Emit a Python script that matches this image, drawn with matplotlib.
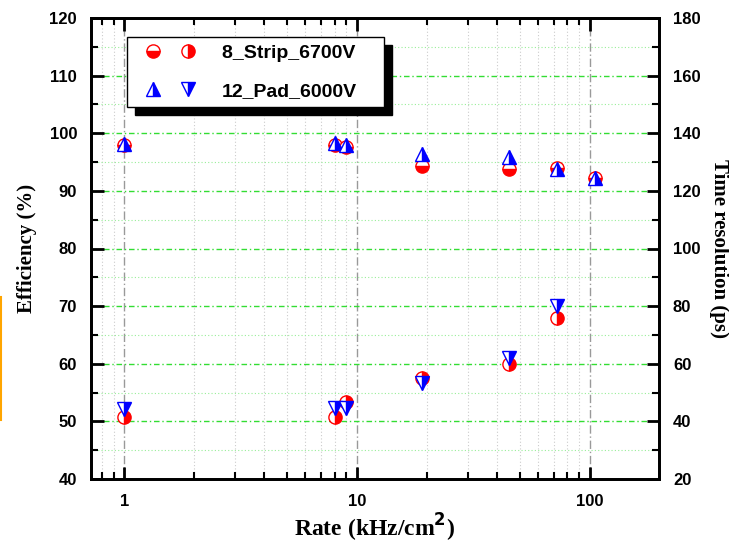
import numpy as np
import matplotlib.pyplot as plt
from matplotlib.legend_handler import HandlerTuple
from matplotlib.lines import Line2D
from matplotlib.ticker import FixedLocator, MultipleLocator, NullFormatter, FixedFormatter

# Rate points (kHz/cm^2)
strip_rate = [1, 8, 9, 19, 45, 72, 105]
pad_rate = [1, 8, 9, 19, 45, 72, 105]

# Efficiency (%) - left axis
strip_eff = [98.0, 98.0, 97.7, 94.4, 93.8, 94.0, 92.3]
pad_eff = [98.1, 98.3, 98.0, 96.4, 95.9, 93.8, 92.3]

# Time resolution (ps) - right axis, only measured up to 72 kHz/cm^2
strip_time_rate = [1, 8, 9, 19, 45, 72]
strip_time = [41.6, 41.6, 46.8, 55.0, 60.0, 75.8]
pad_time_rate = [1, 8, 9, 19, 45, 72]
pad_time = [44.2, 44.8, 44.8, 53.2, 62.0, 80.0]

x_major = [1, 10, 100]
x_labels = ["1", "10", "100"]
legend_labels = ["8_Strip_6700V    ", "12_Pad_6000V"]

tick_size = 12
label_font = dict(family="Liberation Serif", weight="bold", size=15)

fig = plt.figure(figsize=(7.29, 5.44), dpi=100)
ax = fig.add_axes([91 / 729, 65 / 544, 568 / 729, 461 / 544])
ax2 = ax.twinx()

ax.set_xscale("log")
ax.set_xlim(0.72, 198)
ax.set_ylim(40, 120)
ax2.set_ylim(20, 180)

# grid: gray verticals, green horizontals
minor_x = [v * d for d in (0.1, 1, 10, 100) for v in range(2, 10) if 0.72 < v * d < 198]
ax.xaxis.set_major_locator(FixedLocator(x_major))
ax.xaxis.set_major_formatter(FixedFormatter(x_labels))
ax.xaxis.set_minor_locator(FixedLocator(minor_x))
ax.xaxis.set_minor_formatter(NullFormatter())
ax.yaxis.set_major_locator(MultipleLocator(10))
ax.yaxis.set_minor_locator(MultipleLocator(5))
ax2.yaxis.set_major_locator(MultipleLocator(20))
ax2.yaxis.set_minor_locator(MultipleLocator(10))

ax.grid(True, axis="x", which="major", color="#999999", linestyle=(0, (6, 2, 1, 2)), linewidth=1)
ax.grid(True, axis="x", which="minor", color="#cccccc", linestyle=(0, (1, 2)), linewidth=0.8)
ax.grid(True, axis="y", which="major", color="#33dd33", linestyle=(0, (4, 2, 1, 2)), linewidth=1)
ax.grid(True, axis="y", which="minor", color="#99ee99", linestyle=(0, (1, 2)), linewidth=0.8)
ax.set_axisbelow(True)

ms = 9.5
red = "#ff0000"
blue = "#0000ff"

ax.plot(strip_rate, strip_eff, linestyle="none", marker="o", ms=ms, fillstyle="bottom",
        color=red, markerfacecoloralt="white", markeredgecolor=red, zorder=3)
ax.plot(pad_rate, pad_eff, linestyle="none", marker="^", ms=ms + 1, fillstyle="right",
        color=blue, markerfacecoloralt="white", markeredgecolor=blue, zorder=4)
ax2.plot(strip_time_rate, strip_time, linestyle="none", marker="o", ms=ms, fillstyle="right",
         color=red, markerfacecoloralt="white", markeredgecolor=red, zorder=3)
ax2.plot(pad_time_rate, pad_time, linestyle="none", marker="v", ms=ms + 1, fillstyle="right",
         color=blue, markerfacecoloralt="white", markeredgecolor=blue, zorder=4)

# ticks pointing inwards on all sides
ax.tick_params(which="major", direction="in", length=9, width=2, top=True, right=False)
ax.tick_params(which="minor", direction="in", length=5, width=1.5, top=True, right=False)
ax2.tick_params(which="major", direction="in", length=9, width=2)
ax2.tick_params(which="minor", direction="in", length=5, width=1.5)
ax.tick_params(axis="x", pad=11)
ax.tick_params(axis="y", pad=10)
ax2.tick_params(axis="y", pad=10)
for a in (ax, ax2):
    for lab in a.get_xticklabels() + a.get_yticklabels():
        lab.set_family("Liberation Sans")
        lab.set_fontweight("bold")
        lab.set_fontsize(tick_size)
    for sp in a.spines.values():
        sp.set_linewidth(2)

ax.set_xlabel("Rate (kHz/cm$^{\\mathbf{2}}$)", labelpad=2, family="Liberation Serif",
              weight="bold", size=17)
ax.set_ylabel("Efficiency (%)", labelpad=9, **label_font)
ax2.set_ylabel("Time resolution (ps)", rotation=270, va="bottom", labelpad=6, **label_font)

# legend: two markers per sample
h_s1 = Line2D([], [], linestyle="none", marker="o", ms=ms, fillstyle="bottom", color=red,
              markerfacecoloralt="white", markeredgecolor=red)
h_s2 = Line2D([], [], linestyle="none", marker="o", ms=ms, fillstyle="right", color=red,
              markerfacecoloralt="white", markeredgecolor=red)
h_p1 = Line2D([], [], linestyle="none", marker="^", ms=ms + 1, fillstyle="right", color=blue,
              markerfacecoloralt="white", markeredgecolor=blue)
h_p2 = Line2D([], [], linestyle="none", marker="v", ms=ms + 1, fillstyle="right", color=blue,
              markerfacecoloralt="white", markeredgecolor=blue)
leg = ax2.legend([(h_s1, h_s2), (h_p1, h_p2)], legend_labels,
                 handler_map={tuple: HandlerTuple(ndivide=None, pad=-0.15)},
                 loc="upper left", bbox_to_anchor=(36 / 568, 1 - 19 / 461), handlelength=3.75,
                 handletextpad=0.77, labelspacing=1.05, borderpad=0.37, borderaxespad=0,
                 fancybox=False, shadow={"color": "black", "alpha": 1, "ox": 6, "oy": -6},
                 framealpha=1, prop=dict(family="Liberation Sans", weight="bold", size=14))
leg.get_frame().set_edgecolor("black")
leg.get_frame().set_linewidth(1)

# thin orange mark at the left border
fig.add_artist(Line2D([0.002, 0.002], [1 - 297 / 544, 1 - 420 / 544],
                      transform=fig.transFigure, color="orange", linewidth=1.5))

fig.savefig("out.png", dpi=100)
